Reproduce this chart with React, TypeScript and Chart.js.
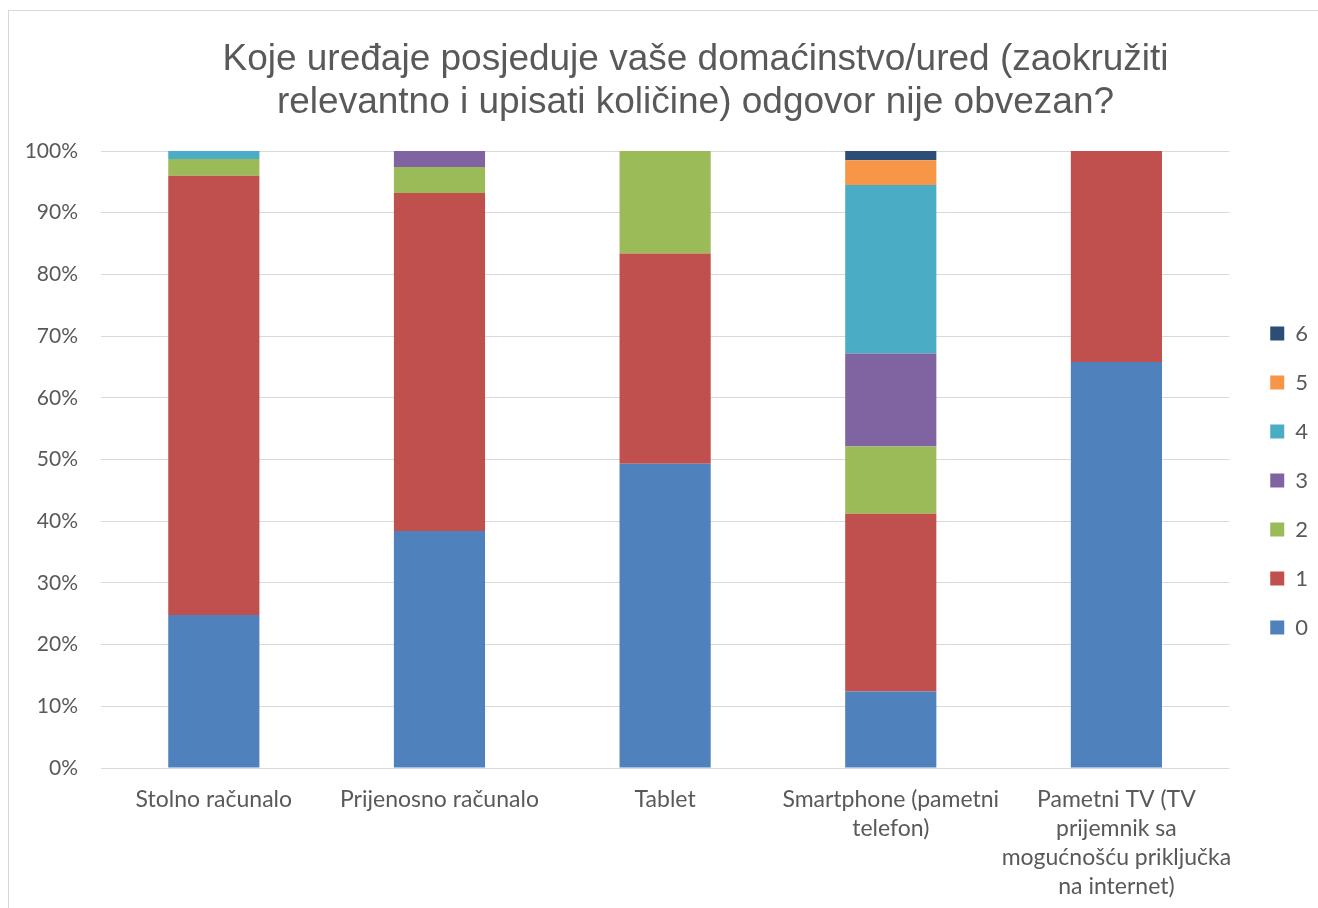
import React, { useEffect, useRef } from "react";
import { Chart, registerables } from "chart.js";

Chart.register(...registerables);

const categories: (string | string[])[] = [
  "Stolno računalo",
  "Prijenosno računalo",
  "Tablet",
  ["Smartphone (pametni", "telefon)"],
  ["Pametni TV (TV", "prijemnik sa", "mogućnošću priključka", "na internet)"],
];

const seriesLabels = ["0", "1", "2", "3", "4", "5", "6"];
const series0 = [24.8, 38.4, 49.3, 12.4, 65.8];
const series1 = [71.2, 54.8, 34.1, 28.8, 34.2];
const series2 = [2.7, 4.2, 16.6, 10.9, 0];
const series3 = [0, 2.6, 0, 15.1, 0];
const series4 = [1.3, 0, 0, 27.3, 0];
const series5 = [0, 0, 0, 4.0, 0];
const series6 = [0, 0, 0, 1.5, 0];
const seriesColors = ["#4F81BD", "#C0504D", "#9BBB59", "#8064A2", "#4BACC6", "#F79646", "#2C4D75"];

const titleLines = [
  "Koje uređaje posjeduje vaše domaćinstvo/ured (zaokružiti",
  "relevantno i upisati količine) odgovor nije obvezan?",
];

const TEXT = "#595959";
const GRID = "#d9d9d9";
const FONT = "Lato, 'Open Sans', sans-serif";

const titlePlugin = {
  id: "customTitle",
  afterDraw(chart: any) {
    const ctx = chart.ctx;
    ctx.save();
    ctx.font = "37px 'Liberation Sans', Arial, sans-serif";
    ctx.fillStyle = TEXT;
    ctx.textAlign = "center";
    ctx.textBaseline = "alphabetic";
    const cx = chart.width / 2 + 32;
    titleLines.forEach((t, i) => ctx.fillText(t, cx, 59 + i * 43));
    ctx.restore();
  },
};

const legendShift = {
  id: "legendShift",
  afterLayout(chart: any) {
    const lg = chart.legend;
    if (!lg) return;
    const w = lg.width;
    const h = lg.bottom - lg.top;
    lg.left = chart.chartArea.right + 14;
    lg.right = lg.left + w;
    lg.top = chart.chartArea.top - 49;
    lg.bottom = lg.top + h;
  },
};

export default function App() {
  const ref = useRef<HTMLCanvasElement | null>(null);

  useEffect(() => {
    if (!ref.current) return;
    const all = [series0, series1, series2, series3, series4, series5, series6];
    const chart = new Chart(ref.current, {
      type: "bar",
      data: {
        labels: categories as any,
        datasets: all.map((d, i) => ({
          label: seriesLabels[i],
          data: d,
          backgroundColor: seriesColors[i],
          borderWidth: 0,
          categoryPercentage: 1,
          barPercentage: 0.404,
        })),
      },
      options: {
        responsive: false,
        animation: false,
        layout: { padding: { top: 140, right: 14, left: 0, bottom: 0 } },
        plugins: {
          title: { display: false },
          tooltip: { enabled: false },
          legend: {
            position: "right",
            reverse: true,
            labels: {
              boxWidth: 14,
              boxHeight: 14,
              padding: 27,
              color: TEXT,
              font: { family: FONT, size: 22 },
            },
          },
        },
        scales: {
          x: {
            stacked: true,
            grid: { display: false, drawTicks: false },
            border: { display: false },
            ticks: {
              color: TEXT,
              font: { family: FONT, size: 23, lineHeight: 1.26 },
              padding: 17,
              maxRotation: 0,
              autoSkip: false,
            },
            afterFit(scale: any) {
              scale.height = 140;
            },
          },
          y: {
            stacked: true,
            min: 0,
            max: 100,
            grid: { color: GRID, lineWidth: 1, drawTicks: false },
            border: { display: false },
            ticks: {
              stepSize: 10,
              color: TEXT,
              padding: 23,
              font: { family: FONT, size: 21 },
              callback: (v: any) => v + "%",
            },
            afterFit(scale: any) {
              scale.width = 92;
            },
          },
        },
      },
      plugins: [titlePlugin, legendShift],
    });
    return () => chart.destroy();
  }, []);

  return (
    <div
      style={{
        position: "fixed",
        left: 8,
        top: 10,
        right: 0,
        bottom: 0,
        borderTop: "1px solid #d9d9d9",
        borderLeft: "1px solid #d9d9d9",
        background: "#fff",
      }}
    >
      <canvas ref={ref} width={1309} height={897} style={{ display: "block" }} />
    </div>
  );
}
